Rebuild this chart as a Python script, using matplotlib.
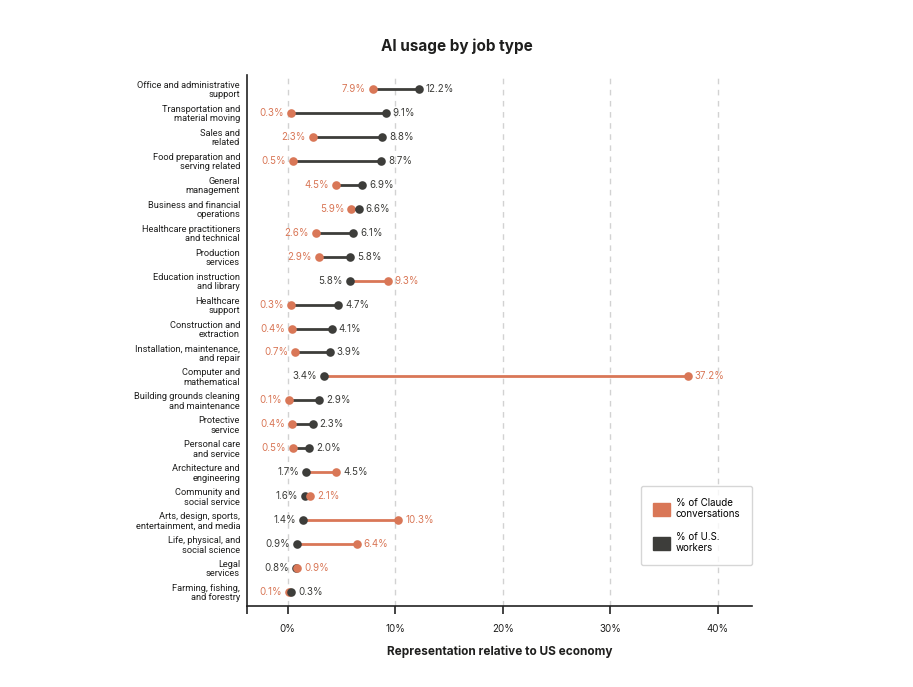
import matplotlib
matplotlib.use("Agg")
import matplotlib.pyplot as plt
from matplotlib.patches import Patch

jobs = ["Office and administrative\nsupport", "Transportation and\nmaterial moving",
        "Sales and\nrelated", "Food preparation and\nserving related",
        "General\nmanagement", "Business and financial\noperations",
        "Healthcare practitioners\nand technical", "Production\nservices",
        "Education instruction\nand library", "Healthcare\nsupport",
        "Construction and\nextraction", "Installation, maintenance,\nand repair",
        "Computer and\nmathematical", "Building grounds cleaning\nand maintenance",
        "Protective\nservice", "Personal care\nand service",
        "Architecture and\nengineering", "Community and\nsocial service",
        "Arts, design, sports,\nentertainment, and media", "Life, physical, and\nsocial science",
        "Legal\nservices", "Farming, fishing,\nand forestry"]
claude = [7.9, 0.3, 2.3, 0.5, 4.5, 5.9, 2.6, 2.9, 9.3, 0.3, 0.4,
          0.7, 37.2, 0.1, 0.4, 0.5, 4.5, 2.1, 10.3, 6.4, 0.9, 0.1]
workers = [12.2, 9.1, 8.8, 8.7, 6.9, 6.6, 6.1, 5.8, 5.8, 4.7, 4.1,
           3.9, 3.4, 2.9, 2.3, 2.0, 1.7, 1.6, 1.4, 0.9, 0.8, 0.3]
xticks = [0, 10, 20, 30, 40]

orange = "#D97757"
dark = "#3D3D3A"
text_c = "#1F1F1E"

plt.rcParams['font.family'] = ['Inter', 'DejaVu Sans']

fig = plt.figure(figsize=(9.13, 6.87), dpi=100)
ax = fig.add_axes([0.2705, 0.1179, 0.5532, 0.7729])

for x in xticks:
    ax.axvline(x, color="#D2D2D2", lw=1, ls=(0, (4, 4)), zorder=0)

for i, (c, w) in enumerate(zip(claude, workers)):
    line_c = orange if c > w else dark
    ax.plot([c, w], [i, i], color=line_c, lw=2, zorder=2, solid_capstyle="butt")
    pts = [(c, orange), (w, dark)]
    pts.sort(key=lambda p: p[0])
    for k, (v, col) in enumerate(pts):
        ax.plot(v, i, "o", color=col, ms=6.2, zorder=3 + k, mec="none")
    lo, hi = pts
    ax.annotate("%.1f%%" % lo[0], (lo[0], i), xytext=(-5, 0), textcoords="offset points",
                ha="right", va="center", fontsize=7, color=lo[1])
    hi_col = hi[1]
    if jobs[i].startswith("Architecture"):
        hi_col = dark
    ax.annotate("%.1f%%" % hi[0], (hi[0], i), xytext=(5, 0), textcoords="offset points",
                ha="left", va="center", fontsize=7, color=hi_col)

ax.set_ylim(21.58, -0.58)
ax.set_xlim(-3.8, 43.2)
ax.set_yticks(range(len(jobs)))
ax.set_yticklabels(jobs, fontsize=6.7, color=text_c, linespacing=1.05,
                   family=['Roboto', 'DejaVu Sans'])
ax.tick_params(axis="y", length=0, pad=5)
ax.set_xticks([-3.8] + xticks)
ax.set_xticklabels([""] + ["%d%%" % x for x in xticks], fontsize=7, color=text_c)
ax.tick_params(axis="x", length=6, width=1.2, pad=7, color="#222222")

for s in ["top", "right"]:
    ax.spines[s].set_visible(False)
for s in ["left", "bottom"]:
    ax.spines[s].set_linewidth(1.2)
    ax.spines[s].set_color("#222222")

ax.set_xlabel("Representation relative to US economy", fontsize=8.5,
              fontweight="bold", color=text_c, labelpad=8)
fig.text(0.5, 0.933, "AI usage by job type", ha="center", va="center",
         fontsize=11, fontweight="bold", color=text_c)

handles = [Patch(color=orange, label="% of Claude\nconversations"),
           Patch(color=dark, label="% of U.S.\nworkers")]
leg = ax.legend(handles=handles, loc="lower right", bbox_to_anchor=(1.0, 0.077),
                borderaxespad=0, fontsize=7, frameon=True, handlelength=1.75,
                handleheight=1.75, labelspacing=1.3, borderpad=1.2,
                handletextpad=0.6, fancybox=True)
leg.get_frame().set_edgecolor("#CCCCCC")
leg.get_frame().set_linewidth(1)

fig.savefig("out.png", dpi=100, facecolor="white")
